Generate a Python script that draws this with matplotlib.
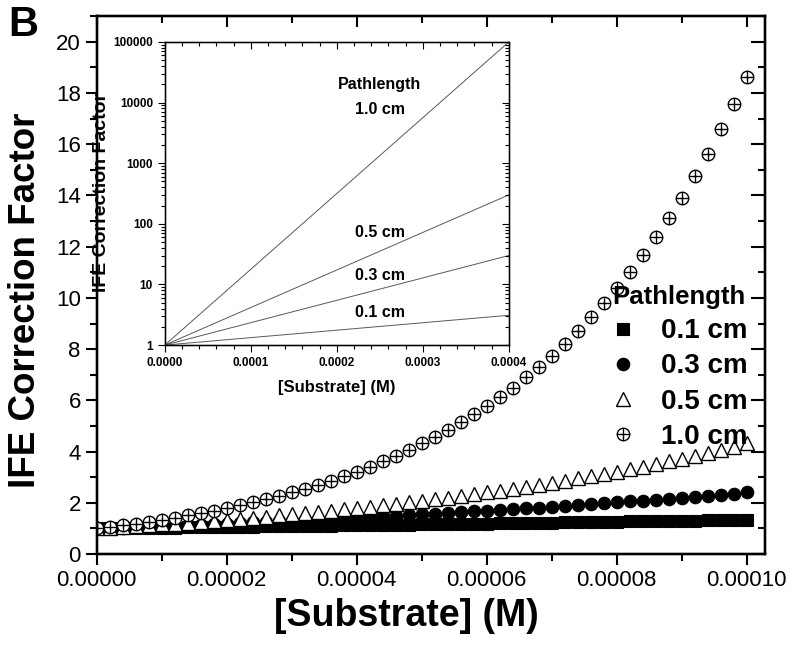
import numpy as np
import matplotlib
matplotlib.use('Agg')
import matplotlib.pyplot as plt
from matplotlib.ticker import MultipleLocator, FixedLocator, NullFormatter

plt.rcParams['font.family'] = ['Liberation Sans', 'DejaVu Sans']

# substrate concentration (M), 51 points from 0 to 1e-4
conc = np.linspace(0, 0.0001, 51)

# IFE correction factor for each pathlength
f_01 = [1.000, 1.006, 1.012, 1.018, 1.024, 1.030, 1.036, 1.042, 1.048, 1.054,
        1.060, 1.067, 1.073, 1.079, 1.085, 1.092, 1.098, 1.105, 1.111, 1.118,
        1.124, 1.131, 1.137, 1.144, 1.151, 1.158, 1.164, 1.171, 1.178, 1.185,
        1.192, 1.199, 1.206, 1.213, 1.220, 1.227, 1.234, 1.242, 1.249, 1.256,
        1.264, 1.271, 1.279, 1.286, 1.294, 1.301, 1.309, 1.317, 1.324, 1.332,
        1.340]
f_03 = [1.000, 1.018, 1.036, 1.054, 1.073, 1.092, 1.111, 1.131, 1.151, 1.171,
        1.192, 1.213, 1.234, 1.256, 1.279, 1.301, 1.324, 1.348, 1.372, 1.396,
        1.421, 1.446, 1.471, 1.497, 1.524, 1.551, 1.578, 1.606, 1.635, 1.664,
        1.693, 1.723, 1.753, 1.785, 1.816, 1.848, 1.881, 1.914, 1.948, 1.983,
        2.018, 2.053, 2.090, 2.127, 2.164, 2.203, 2.242, 2.281, 2.322, 2.363,
        2.405]
f_05 = [1.000, 1.030, 1.060, 1.092, 1.124, 1.158, 1.192, 1.227, 1.264, 1.301,
        1.340, 1.380, 1.420, 1.463, 1.506, 1.551, 1.596, 1.644, 1.693, 1.743,
        1.795, 1.848, 1.903, 1.959, 2.018, 2.078, 2.139, 2.203, 2.268, 2.335,
        2.405, 2.476, 2.550, 2.625, 2.703, 2.783, 2.866, 2.951, 3.039, 3.129,
        3.222, 3.318, 3.416, 3.517, 3.622, 3.729, 3.840, 3.954, 4.071, 4.192,
        4.317]
f_10 = [1.000, 1.060, 1.124, 1.192, 1.264, 1.340, 1.420, 1.506, 1.596, 1.693,
        1.795, 1.903, 2.018, 2.139, 2.268, 2.405, 2.550, 2.703, 2.866, 3.039,
        3.222, 3.416, 3.622, 3.840, 4.071, 4.317, 4.577, 4.852, 5.145, 5.455,
        5.783, 6.132, 6.501, 6.893, 7.308, 7.749, 8.215, 8.710, 9.235, 9.792,
        10.38, 11.01, 11.67, 12.37, 13.12, 13.91, 14.75, 15.63, 16.58, 17.58,
        18.63]
path_labels = ['0.1 cm', '0.3 cm', '0.5 cm', '1.0 cm']

# inset: log scale, 0 .. 4e-4 M
inset_x = [0.0, 0.0004]
inset_end = {'0.1 cm': 3.1, '0.3 cm': 30, '0.5 cm': 300, '1.0 cm': 100000}
inset_label_y = {'Pathlength': 0.858, '1.0 cm': 0.776, '0.5 cm': 0.370,
                 '0.3 cm': 0.231, '0.1 cm': 0.106}

x_ticks = [0, 0.00002, 0.00004, 0.00006, 0.00008, 0.0001]
x_ticklabels = ['0.00000', '0.00002', '0.00004', '0.00006', '0.00008', '0.00010']
y_ticks = [0, 2, 4, 6, 8, 10, 12, 14, 16, 18, 20]
ix_ticks = [0, 0.0001, 0.0002, 0.0003, 0.0004]
ix_ticklabels = ['0.0000', '0.0001', '0.0002', '0.0003', '0.0004']
iy_ticks = [1, 10, 100, 1000, 10000, 100000]
iy_ticklabels = ['1', '10', '100', '1000', '10000', '100000']

fig = plt.figure(figsize=(8, 6.45), dpi=100)
ax = fig.add_axes([0.121, 0.141, 0.835, 0.834])

h1, = ax.plot(conc, f_01, 's', color='k', ms=8, mew=0.8)
h2, = ax.plot(conc, f_03, 'o', color='k', ms=9, mew=0.8)
h3, = ax.plot(conc, f_05, '^', mfc='white', mec='k', ms=10, mew=1.0)
h4a, = ax.plot(conc, f_10, 'o', mfc='white', mec='k', ms=9, mew=1.0)
h4b, = ax.plot(conc, f_10, '+', color='k', ms=9, mew=1.0)

ax.set_xlim(0, 0.0001028)
ax.set_ylim(0, 21)
ax.set_xticks(x_ticks)
ax.set_xticklabels(x_ticklabels)
ax.set_yticks(y_ticks)
ax.xaxis.set_minor_locator(MultipleLocator(0.00001))
ax.yaxis.set_minor_locator(MultipleLocator(1))
ax.tick_params(which='both', direction='out', top=False, right=False,
               width=1.5, labelsize=16)
ax.tick_params(which='major', length=8)
ax.tick_params(which='minor', length=5)
for s in ax.spines.values():
    s.set_linewidth(1.6)

ax.set_xlabel('[Substrate] (M)', fontsize=27, fontweight='bold')
ax.set_ylabel('IFE Correction Factor', fontsize=26.5, fontweight='bold')
ax.xaxis.set_label_coords(0.463, -0.082)
ax.yaxis.set_label_coords(-0.081, 0.472)

leg = ax.legend([h1, h2, h3, (h4a, h4b)], path_labels, title='Pathlength',
                loc='upper right', bbox_to_anchor=(0.975, 0.50), frameon=False,
                prop=dict(weight='bold', size=20),
                title_fontproperties=dict(weight='bold', size=18.5),
                handlelength=1.0, handletextpad=0.9, labelspacing=0.33,
                borderaxespad=0, borderpad=0)

# top and right ticks point inwards
axt = ax.twiny()
axt.set_xlim(ax.get_xlim())
axt.set_xticks(x_ticks)
axt.xaxis.set_minor_locator(MultipleLocator(0.00001))
axt.tick_params(which='both', direction='in', labeltop=False, width=1.5)
axt.tick_params(which='major', length=8)
axt.tick_params(which='minor', length=5)
axr = ax.twinx()
axr.set_ylim(ax.get_ylim())
axr.set_yticks(y_ticks)
axr.yaxis.set_minor_locator(MultipleLocator(1))
axr.tick_params(which='both', direction='in', labelright=False, width=1.5)
axr.tick_params(which='major', length=10)
axr.tick_params(which='minor', length=5)
for a in (axt, axr):
    for s in a.spines.values():
        s.set_linewidth(1.6)

# inset
axi = fig.add_axes([0.206, 0.465, 0.430, 0.470])
for lab in path_labels:
    axi.plot(inset_x, [1, inset_end[lab]], color='0.35', lw=0.7)
axi.set_yscale('log')
axi.set_xlim(0, 0.0004)
axi.set_ylim(1, 100000)
axi.set_xticks(ix_ticks)
axi.set_xticklabels(ix_ticklabels)
axi.xaxis.set_minor_locator(MultipleLocator(0.00002))
axi.yaxis.set_major_locator(FixedLocator(iy_ticks))
axi.set_yticklabels(iy_ticklabels)
axi.yaxis.set_minor_formatter(NullFormatter())
axi.tick_params(which='both', direction='out', top=False, right=False, width=0.8)
axi.tick_params(which='major', length=5)
axi.tick_params(which='minor', length=3)
for t in axi.get_xticklabels() + axi.get_yticklabels():
    t.set_fontweight('bold')
    t.set_fontsize(8.5)
axi.set_xlabel('[Substrate] (M)', fontsize=12, fontweight='bold')
axi.set_ylabel('IFE Correction Factor', fontsize=14, fontweight='bold')
axi.xaxis.set_label_coords(0.5, -0.115)
axi.yaxis.set_label_coords(-0.158, 0.505)
for s in axi.spines.values():
    s.set_linewidth(1.0)

axit = axi.twiny()
axit.set_xlim(axi.get_xlim())
axit.set_xticks(ix_ticks)
axit.xaxis.set_minor_locator(MultipleLocator(0.00002))
axit.tick_params(which='both', direction='in', labeltop=False, width=0.8)
axit.tick_params(which='major', length=5)
axit.tick_params(which='minor', length=3)
axir = axi.twinx()
axir.set_yscale('log')
axir.set_ylim(axi.get_ylim())
axir.yaxis.set_major_locator(FixedLocator(iy_ticks))
axir.tick_params(which='both', direction='in', labelright=False, width=0.8)
axir.tick_params(which='major', length=5)
axir.tick_params(which='minor', length=3)

for txt, yy in inset_label_y.items():
    axi.text(0.625, yy, txt, transform=axi.transAxes, ha='center', va='center',
             fontsize=11.5, fontweight='bold')

fig.text(0.010, 0.992, 'B', fontsize=30, fontweight='bold', va='top', ha='left')

fig.savefig('out.png', dpi=100)
